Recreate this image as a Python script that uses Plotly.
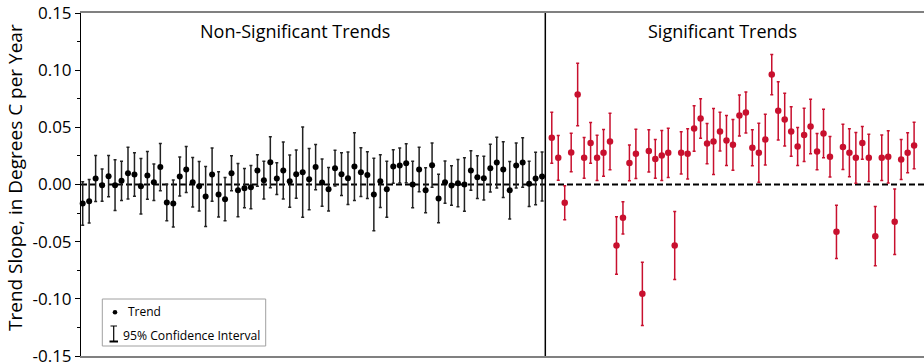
import plotly.graph_objects as go

# ---------------- data ----------------
nonsig_trend = [-0.0166, -0.0146, 0.0052, -0.0006, 0.0073, -0.0006, 0.0032, 0.0099, 0.0087, -0.0015,
                0.0079, 0.0020, 0.0152, -0.0157, -0.0166, 0.0070, 0.0131, 0.0020, -0.0015, -0.0105,
                0.0087, -0.0087, -0.0128, 0.0099, -0.0050, -0.0032, -0.0023, 0.0122, 0.0038, 0.0195,
                0.0052, 0.0122, 0.0029, 0.0090, 0.0108, 0.0047, 0.0152, 0.0017, -0.0041, 0.0143,
                0.0090, 0.0055, 0.0157, 0.0108, 0.0082, -0.0087, 0.0029, -0.0041, 0.0157, 0.0166,
                0.0186, 0.0000, 0.0131, -0.0050, 0.0169, -0.0122, 0.0020, -0.0009, 0.0012, 0.0000,
                0.0122, 0.0064, 0.0055, 0.0143, 0.0192, 0.0131, -0.0050, 0.0166, 0.0192, 0.0006,
                0.0052, 0.0070]
nonsig_ci = [0.0190, 0.0190, 0.0201, 0.0141, 0.0180, 0.0222, 0.0172, 0.0226, 0.0190, 0.0243,
             0.0209, 0.0160, 0.0206, 0.0159, 0.0206, 0.0171, 0.0201, 0.0216, 0.0216, 0.0262,
             0.0233, 0.0198, 0.0189, 0.0153, 0.0233, 0.0171, 0.0190, 0.0138, 0.0165, 0.0223,
             0.0139, 0.0249, 0.0229, 0.0211, 0.0394, 0.0268, 0.0197, 0.0207, 0.0190, 0.0156,
             0.0187, 0.0230, 0.0296, 0.0214, 0.0205, 0.0317, 0.0231, 0.0245, 0.0146, 0.0153,
             0.0171, 0.0203, 0.0194, 0.0197, 0.0193, 0.0212, 0.0185, 0.0172, 0.0206, 0.0233,
             0.0173, 0.0187, 0.0191, 0.0209, 0.0222, 0.0244, 0.0251, 0.0196, 0.0216, 0.0198,
             0.0230, 0.0214]

sig_trend = [0.0408, 0.0233, -0.0160, 0.0280, 0.0787, 0.0233, 0.0364, 0.0233, 0.0277, 0.0376,
             -0.0533, -0.0291, 0.0189, 0.0268, -0.0956, 0.0294, 0.0224, 0.0254, 0.0277, -0.0533,
             0.0277, 0.0268, 0.0490, 0.0577, 0.0358, 0.0376, 0.0463, 0.0385, 0.0347, 0.0603,
             0.0629, 0.0321, 0.0277, 0.0393, 0.0962, 0.0644, 0.0568, 0.0463, 0.0332, 0.0434,
             0.0507, 0.0288, 0.0446, 0.0242, -0.0414, 0.0329, 0.0277, 0.0233, 0.0364, 0.0233,
             -0.0452, 0.0233, 0.0242, -0.0326, 0.0219, 0.0277, 0.0341]
sig_ci = [0.0223, 0.0195, 0.0149, 0.0168, 0.0273, 0.0178, 0.0178, 0.0197, 0.0204, 0.0248,
          0.0252, 0.0141, 0.0156, 0.0216, 0.0277, 0.0185, 0.0169, 0.0219, 0.0215, 0.0297,
          0.0185, 0.0219, 0.0199, 0.0172, 0.0176, 0.0288, 0.0170, 0.0219, 0.0222, 0.0179,
          0.0179, 0.0158, 0.0258, 0.0222, 0.0176, 0.0255, 0.0231, 0.0217, 0.0166, 0.0233,
          0.0239, 0.0158, 0.0213, 0.0177, 0.0233, 0.0197, 0.0210, 0.0222, 0.0143, 0.0206,
          0.0259, 0.0199, 0.0229, 0.0287, 0.0175, 0.0175, 0.0204]

# station index positions (significant group follows after a gap)
nonsig_x = [i + 1 for i in range(len(nonsig_trend))]
sig_x = [len(nonsig_trend) + 1.5 + i for i in range(len(sig_trend))]
divider_x = len(nonsig_trend) + 0.5

y_tick_values = [-0.15, -0.10, -0.05, 0.00, 0.05, 0.10, 0.15]
y_tick_labels = ["-0.15", "-0.10", "-0.05", "0.00", "0.05", "0.10", "0.15"]

group_titles = ["Non-Significant Trends", "Significant Trends"]
y_title = "Trend Slope, in Degrees C per Year"
legend_labels = ["Trend", "95% Confidence Interval"]

# ---------------- figure ----------------
FONT = "Open Sans"
RED = "#C8102E"
W, H = 924, 364
ML, MR, MT, MB = 81, 0, 13, 8
PW, PH = W - ML - MR, H - MT - MB


def px(xp):
    return (xp - ML) / PW


def py(yp):
    return (H - MB - yp) / PH


fig = go.Figure()
fig.add_trace(go.Scatter(
    x=nonsig_x, y=nonsig_trend, mode="markers",
    marker=dict(color="#000000", size=6),
    error_y=dict(type="data", array=nonsig_ci, symmetric=True,
                 color="#222222", thickness=1.5, width=1.5),
    showlegend=False, cliponaxis=False,
))
fig.add_trace(go.Scatter(
    x=sig_x, y=sig_trend, mode="markers",
    marker=dict(color=RED, size=6.5),
    error_y=dict(type="data", array=sig_ci, symmetric=True,
                 color=RED, thickness=1.5, width=1.5),
    showlegend=False, cliponaxis=False,
))

shapes = [
    # zero reference line
    dict(type="line", xref="paper", yref="y", x0=0, x1=1, y0=0, y1=0,
         line=dict(color="#000000", width=2, dash="6px,3px"), layer="below"),
    # group divider
    dict(type="line", xref="x", yref="paper", x0=divider_x, x1=divider_x, y0=0, y1=1,
         line=dict(color="#000000", width=1.5)),
    # legend box
    dict(type="rect", xref="paper", yref="paper", x0=px(102.3), x1=px(265.7),
         y0=py(346), y1=py(299), line=dict(color="#A0A0A0", width=1), fillcolor="white"),
    # legend dot
    dict(type="circle", xref="paper", yref="paper", xsizemode="pixel", ysizemode="pixel",
         xanchor=px(115), yanchor=py(312.3), x0=-2.3, x1=2.3, y0=-2.3, y1=2.3,
         fillcolor="#000000", line=dict(width=0)),
    # legend I-beam
    dict(type="line", xref="paper", yref="paper", x0=px(113.7), x1=px(113.7), y0=py(326), y1=py(341.5),
         line=dict(color="#000000", width=1.2)),
    dict(type="line", xref="paper", yref="paper", x0=px(110.5), x1=px(117), y0=py(326), y1=py(326),
         line=dict(color="#000000", width=1)),
    dict(type="line", xref="paper", yref="paper", x0=px(109.5), x1=px(118), y0=py(341.5), y1=py(341.5),
         line=dict(color="#000000", width=2)),
]


def ann(text, x, y, size, xanchor="center", angle=0):
    return dict(text=text, xref="paper", yref="paper", x=x, y=y, textangle=angle,
                xanchor=xanchor, yanchor="middle", showarrow=False,
                font=dict(family=FONT, size=size, color="#000000"))


annotations = [
    ann(group_titles[0], px(294.5), py(31), 18),
    ann(group_titles[1], px(722), py(31), 18),
    ann(y_title, px(14.5), py(177.5), 19, angle=-90),
    ann(legend_labels[0], px(126), py(311.5), 12, xanchor="left"),
    ann(legend_labels[1], px(120.5), py(335.5), 12.2, xanchor="left"),
]

fig.update_layout(
    width=W, height=H,
    margin=dict(l=ML, r=MR, t=MT, b=MB, pad=0, autoexpand=False),
    paper_bgcolor="white", plot_bgcolor="white",
    font=dict(family=FONT, color="#000000"),
    shapes=shapes, annotations=annotations,
    xaxis=dict(range=[0.737, 131.03], showgrid=False, zeroline=False,
               showticklabels=False, ticks="", automargin=False,
               showline=True, mirror=True, linecolor="#808080", linewidth=2),
    yaxis=dict(range=[-0.15, 0.15], tickvals=y_tick_values, ticktext=y_tick_labels,
               showgrid=False, zeroline=False, automargin=False,
               ticklabeloverflow="allow",
               showline=True, linecolor="#000000", linewidth=1,
               ticks="outside", ticklen=5, tickwidth=1, tickcolor="#000000",
               tickfont=dict(family=FONT, size=17, color="#000000"),
               minor=dict(dtick=0.025, tick0=0, ticks="outside", ticklen=3,
                          tickcolor="#000000", tickwidth=1, showgrid=False)),
)

fig.write_html("out.html",
               config={"displayModeBar": False},
               post_script="document.body.style.margin='0px';document.body.style.overflow='hidden';")
